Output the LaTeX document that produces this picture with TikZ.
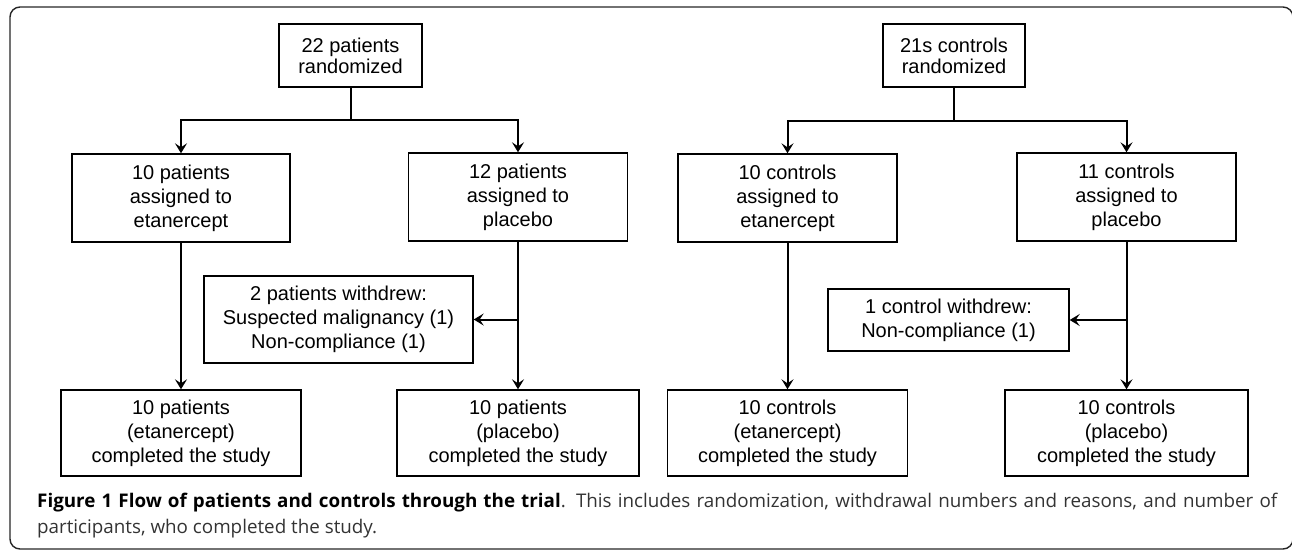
\documentclass[tikz,border=0pt]{standalone}
\usepackage{fontspec}
\setmainfont{Liberation Sans}
\newfontfamily\capfont{Open Sans}
\usetikzlibrary{arrows.meta}
\begin{document}
\begin{tikzpicture}[x=1pt,y=1pt,
  box/.style={draw=black, line width=1.4pt, align=center, inner sep=0pt,
    font=\fontsize{20}{24}\selectfont},
  conn/.style={line width=2pt},
  arr/.style={conn, -{Stealth[length=10pt,width=12pt,inset=4pt]}},
  capstyle/.style={inner sep=0pt, text=black!80, font=\capfont\fontsize{18.8}{26}\selectfont}]
\useasboundingbox (0,0) rectangle (1292,-549);
\draw[line width=1.4pt, rounded corners=10pt, black!85] (10,-7) rectangle (1293,-549);
% top boxes
\node[box, minimum width=143pt, minimum height=63pt, font=\fontsize{20}{21}\selectfont] (A) at (350.5,-55.5) {22 patients\\randomized};
\node[box, minimum width=142pt, minimum height=63pt, font=\fontsize{20}{21}\selectfont] (D) at (954,-55.5) {21s controls\\randomized};
% middle boxes
\node[box, minimum width=218pt, minimum height=88pt] (B) at (181,-198) {10 patients\\assigned to\\etanercept};
\node[box, minimum width=219pt, minimum height=88pt] (C) at (518,-197) {12 patients\\assigned to\\placebo};
\node[box, minimum width=219pt, minimum height=88pt] (E) at (787.5,-198) {10 controls\\assigned to\\etanercept};
\node[box, minimum width=219pt, minimum height=88pt] (F) at (1126.5,-197) {11 controls\\assigned to\\placebo};
% withdrawal boxes
\node[box, minimum width=269pt, minimum height=87pt] (G) at (338.5,-319.5) {2 patients withdrew:\\Suspected malignancy (1)\\Non-compliance (1)};
\node[box, minimum width=241pt, minimum height=62pt] (J) at (948.5,-320) {1 control withdrew:\\Non-compliance (1)};
% bottom boxes
\node[box, minimum width=240pt, minimum height=86pt] (H) at (181,-433) {10 patients\\(etanercept)\\completed the study};
\node[box, minimum width=242pt, minimum height=86pt] (I) at (518,-433) {10 patients\\(placebo)\\completed the study};
\node[box, minimum width=240pt, minimum height=86pt] (K) at (787.5,-433) {10 controls\\(etanercept)\\completed the study};
\node[box, minimum width=243pt, minimum height=86pt] (L) at (1126.5,-433) {10 controls\\(placebo)\\completed the study};
% connectors
\coordinate (sA) at (350.5,-120);
\coordinate (sD) at (954,-120.5);
\draw[conn] (A.south) -- (sA);
\draw[arr] (sA) -| (B.north);
\draw[arr] (sA) -| (C.north);
\draw[conn] (D.south) -- (sD);
\draw[arr] (sD) -| (E.north);
\draw[arr] (sD) -| (F.north);
\draw[arr] (B.south) -- (H.north);
\draw[arr] (C.south) -- (I.north);
\draw[arr] (E.south) -- (K.north);
\draw[arr] (F.south) -- (L.north);
\draw[arr] (C.south |- G.east) -- (G.east);
\draw[arr] (F.south |- J.east) -- (J.east);
% caption
\node[capstyle, anchor=base west] (cap1) at (37,-507) {\makebox[1240pt][s]{\textbf{\color{black}Figure 1 Flow of patients and controls through the trial}. This includes randomization, withdrawal numbers and reasons, and number of}};
\node[capstyle, anchor=base west] (cap2) at (37,-533) {participants, who completed the study.};
\end{tikzpicture}
\end{document}
